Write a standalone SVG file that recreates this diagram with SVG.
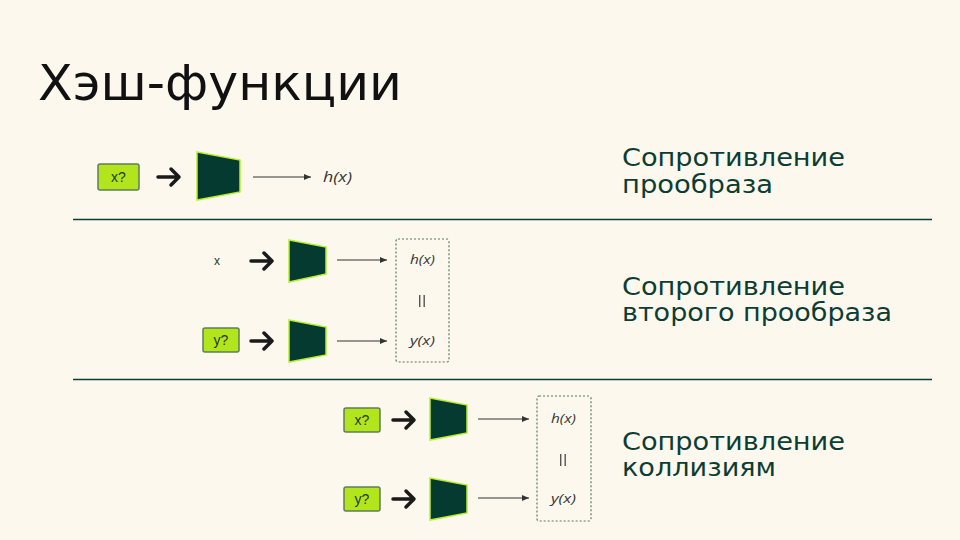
<svg xmlns="http://www.w3.org/2000/svg" width="960" height="540" viewBox="0 0 960 540">
<defs>
<style>
.title{font-family:"DejaVu Sans","Noto Sans",sans-serif;font-size:50px;fill:#111}
.lbl{font-family:"DejaVu Sans","Noto Sans",sans-serif;font-size:24px;fill:#0c3d33}
.in{fill:#b3e51c;stroke:#5f7d5a;stroke-width:1.5}
.intx{font-family:"Liberation Sans","Noto Sans",sans-serif;font-size:14px;fill:#1e3a30;text-anchor:middle}
.hash{fill:#053a31;stroke:#b6ee2a;stroke-width:1.5}
.bold{fill:none;stroke:#1a1a1a;stroke-width:3.5;stroke-linecap:round;stroke-linejoin:round}
.thin{stroke:#333;stroke-width:1.2;fill:none}
.it{font-family:"Open Sans","Liberation Sans",sans-serif;font-size:14px;font-style:italic;fill:#333}
.it2{font-family:"Open Sans","Liberation Sans",sans-serif;font-size:12.5px;font-style:italic;fill:#333}
.eq{fill:#555}
.dash{fill:none;stroke:#5a7866;stroke-width:1.2;stroke-dasharray:2 2}
.sep{stroke:#0c3d33;stroke-width:1.3}
</style>
<marker id="ah" markerWidth="8" markerHeight="8" refX="7" refY="4" orient="auto" markerUnits="userSpaceOnUse">
<path d="M0,1 L7,4 L0,7 Z" fill="#333"/>
</marker>
</defs>
<rect width="960" height="540" fill="#fdf8ee"/>
<text class="title" x="38" y="100" textLength="364" lengthAdjust="spacingAndGlyphs">Хэш-функции</text>

<g id="separators">
<line class="sep" x1="73" y1="219.5" x2="932" y2="219.5"/>
<line class="sep" x1="73" y1="379.5" x2="932" y2="379.5"/>
</g>

<g id="label-1">
<text class="lbl" x="622" y="166" textLength="223" lengthAdjust="spacingAndGlyphs">Сопротивление</text>
<text class="lbl" x="622" y="193" textLength="151" lengthAdjust="spacingAndGlyphs">прообраза</text>
</g>
<g id="label-2">
<text class="lbl" x="622" y="295" textLength="223" lengthAdjust="spacingAndGlyphs">Сопротивление</text>
<text class="lbl" x="622" y="321" textLength="270" lengthAdjust="spacingAndGlyphs">второго прообраза</text>
</g>
<g id="label-3">
<text class="lbl" x="622" y="450" textLength="223" lengthAdjust="spacingAndGlyphs">Сопротивление</text>
<text class="lbl" x="622" y="476" textLength="154" lengthAdjust="spacingAndGlyphs">коллизиям</text>
</g>

<!-- Row 1 -->
<g id="input-1"><rect class="in" x="98" y="164" width="41" height="26" rx="2"/><text class="intx" x="118.5" y="182">x?</text></g>
<g id="hash-1"><polygon class="hash" points="197,152 240,160 240,192 197,200"/></g>
<g id="out-1"><text class="it" x="323" y="182" textLength="29" lengthAdjust="spacingAndGlyphs">h(x)</text></g>

<!-- Row 2 -->
<g id="input-2x"><text class="intx" x="217" y="265" style="font-size:12px">x</text></g>
<g id="hash-2a"><polygon class="hash" points="289,240 326,247 326,274 289,282"/></g>
<g id="input-2y"><rect class="in" x="203" y="328" width="36" height="24" rx="2"/><text class="intx" x="221" y="345">y?</text></g>
<g id="hash-2b"><polygon class="hash" points="289,320 326,327 326,355 289,362"/></g>
<g id="result-2">
<rect class="dash" x="396" y="239" width="53" height="123" rx="2"/>
<text class="it2" x="410" y="264" textLength="25" lengthAdjust="spacingAndGlyphs">h(x)</text>
<rect class="eq" x="419" y="295" width="1.4" height="12"/><rect class="eq" x="423.5" y="295" width="1.4" height="12"/>
<text class="it2" x="410" y="345" textLength="25" lengthAdjust="spacingAndGlyphs">y(x)</text>
</g>

<!-- Row 3 -->
<g id="input-3x"><rect class="in" x="344" y="408" width="36" height="24" rx="2"/><text class="intx" x="362" y="425">x?</text></g>
<g id="hash-3a"><polygon class="hash" points="430,398 467,405 467,433 430,440"/></g>
<g id="input-3y"><rect class="in" x="344" y="487" width="36" height="24" rx="2"/><text class="intx" x="362" y="504">y?</text></g>
<g id="hash-3b"><polygon class="hash" points="430,478 467,485 467,513 430,520"/></g>
<g id="result-3">
<rect class="dash" x="537" y="396" width="54" height="125" rx="2"/>
<text class="it2" x="551" y="423" textLength="25" lengthAdjust="spacingAndGlyphs">h(x)</text>
<rect class="eq" x="560" y="454" width="1.4" height="12"/><rect class="eq" x="564.5" y="454" width="1.4" height="12"/>
<text class="it2" x="551" y="503" textLength="25" lengthAdjust="spacingAndGlyphs">y(x)</text>
</g>

<g id="connectors">
<path class="bold" d="M158,177 H178 M171,169 L179,177 L171,185"/>
<line class="thin" x1="253" y1="177" x2="311" y2="177" marker-end="url(#ah)"/>

<path class="bold" d="M251,261 H271 M264,253 L272,261 L264,269"/>
<line class="thin" x1="337" y1="260" x2="387" y2="260" marker-end="url(#ah)"/>
<path class="bold" d="M251,341 H271 M264,333 L272,341 L264,349"/>
<line class="thin" x1="337" y1="341" x2="387" y2="341" marker-end="url(#ah)"/>

<path class="bold" d="M393,420 H413 M406,412 L414,420 L406,428"/>
<line class="thin" x1="478" y1="419" x2="529" y2="419" marker-end="url(#ah)"/>
<path class="bold" d="M393,499 H413 M406,491 L414,499 L406,507"/>
<line class="thin" x1="478" y1="498" x2="529" y2="498" marker-end="url(#ah)"/>
</g>
</svg>
